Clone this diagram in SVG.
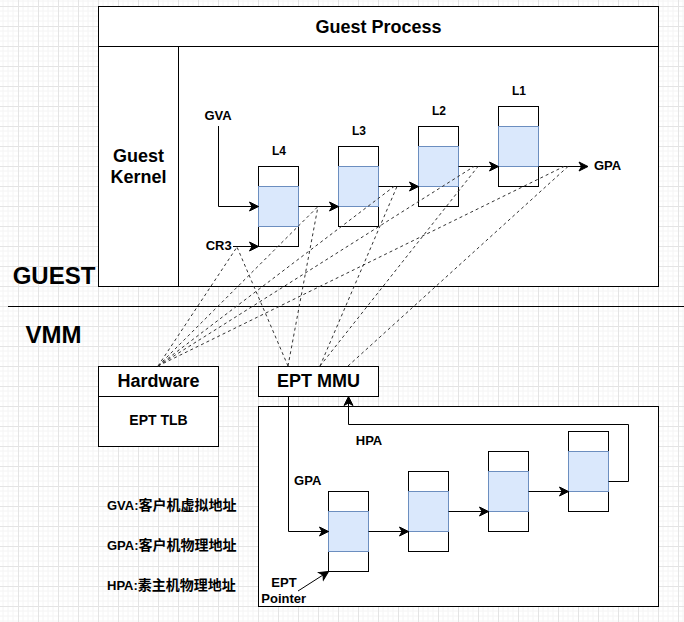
<svg xmlns="http://www.w3.org/2000/svg" width="684" height="622" viewBox="0 0 684 622">
<style>
.box{fill:#fff;stroke:#000;stroke-width:1}
.blue{fill:#dae8fc;stroke:#6c8ebf;stroke-width:1}
.ln{fill:none;stroke:#000;stroke-width:1}
.arr{fill:none;stroke:#000;stroke-width:1;marker-end:url(#ah)}
.dash{fill:none;stroke:#333;stroke-width:1;stroke-dasharray:3 3}
text{font-family:"Liberation Sans",Arial,sans-serif;font-weight:bold;fill:#000}
.t18{font-size:18px;text-anchor:middle}
.t24{font-size:24px;text-anchor:middle}
.t13{font-size:13px;text-anchor:middle}
.t12{font-size:12px;text-anchor:middle}
.t14{font-size:14px;text-anchor:middle}
.leg{font-size:13px}
.cjk{font-family:"Liberation Sans","Noto Sans CJK SC",sans-serif;font-size:14px}
</style>
<defs>
<pattern id="grid" x="-2" y="6" width="20" height="20" patternUnits="userSpaceOnUse">
<path d="M5 0V20M10 0V20M15 0V20M0 5H20M0 10H20M0 15H20" fill="none" stroke="#f4f4f4" stroke-width="1"/>
<path d="M0.5 0V20M0 0.5H20" fill="none" stroke="#e4e4e4" stroke-width="1"/>
</pattern>
<marker id="ah" markerUnits="userSpaceOnUse" markerWidth="12" markerHeight="12" viewBox="-10 -6 12 12" refX="0" refY="0" orient="auto">
<path d="M0 0L-9 -4.5L-6.5 0L-9 4.5Z" fill="#000" stroke="#000" stroke-width="1"/>
</marker>
</defs>
<rect width="684" height="622" fill="#fff"/>
<rect x="-2" y="0" width="690" height="622" fill="url(#grid)" transform="translate(0,0)"/>

<g id="guest-process">
<rect class="box" x="98.5" y="6.5" width="560" height="280"/>
<line class="ln" x1="98.5" y1="46.5" x2="658.5" y2="46.5"/>
<text class="t18" x="378.5" y="32.5">Guest Process</text>
</g>
<g id="guest-kernel">
<line class="ln" x1="178.5" y1="46.5" x2="178.5" y2="286.5"/>
<text class="t18" x="138.5" y="161.5">Guest</text>
<text class="t18" x="138.5" y="182.5">Kernel</text>
</g>
<g id="guest-label"><text class="t24" x="54" y="283.5">GUEST</text></g>
<g id="separator"><line class="ln" x1="8" y1="306.5" x2="684" y2="306.5"/></g>
<g id="vmm-label"><text class="t24" x="53.5" y="343">VMM</text></g>

<g id="L4">
<rect class="box" x="258.5" y="166.5" width="40" height="80"/>
<rect class="blue" x="258.5" y="186.5" width="40" height="40"/>
<text class="t12" x="279" y="155.3">L4</text>
</g>
<g id="L3">
<rect class="box" x="338.5" y="146.5" width="40" height="80"/>
<rect class="blue" x="338.5" y="166.5" width="40" height="40"/>
<text class="t12" x="359" y="135.3">L3</text>
</g>
<g id="L2">
<rect class="box" x="418.5" y="126.5" width="40" height="80"/>
<rect class="blue" x="418.5" y="146.5" width="40" height="40"/>
<text class="t12" x="439" y="115.3">L2</text>
</g>
<g id="L1">
<rect class="box" x="498.5" y="106.5" width="40" height="80"/>
<rect class="blue" x="498.5" y="126.5" width="40" height="40"/>
<text class="t12" x="519" y="95.3">L1</text>
</g>
<g id="gva"><text class="t13" x="218" y="120">GVA</text></g>
<g id="cr3"><text class="t13" x="218.7" y="249.7">CR3</text></g>
<g id="gpa-top"><text class="t13" x="607.5" y="170.3">GPA</text></g>

<g id="hardware">
<rect class="box" x="98.5" y="366.5" width="120" height="80"/>
<line class="ln" x1="98.5" y1="396.5" x2="218.5" y2="396.5"/>
<text class="t18" x="158.5" y="387.2">Hardware</text>
<text class="t14" x="158.5" y="425.3">EPT TLB</text>
</g>
<g id="ept-mmu">
<rect class="box" x="258.5" y="366.5" width="120" height="30"/>
<text class="t18" x="318.5" y="387.2">EPT MMU</text>
</g>
<g id="ept-area">
<rect class="box" x="258.5" y="406.5" width="400" height="200"/>
</g>
<g id="E1">
<rect class="box" x="328.5" y="491.5" width="40" height="80"/>
<rect class="blue" x="328.5" y="511.5" width="40" height="40"/>
</g>
<g id="E2">
<rect class="box" x="408.5" y="471.5" width="40" height="80"/>
<rect class="blue" x="408.5" y="491.5" width="40" height="40"/>
</g>
<g id="E3">
<rect class="box" x="488.5" y="451.5" width="40" height="80"/>
<rect class="blue" x="488.5" y="471.5" width="40" height="40"/>
</g>
<g id="E4">
<rect class="box" x="568.5" y="431.5" width="40" height="80"/>
<rect class="blue" x="568.5" y="451.5" width="40" height="40"/>
</g>
<g id="hpa"><text class="t13" x="369" y="444.7">HPA</text></g>
<g id="gpa-low"><text class="t13" x="307.7" y="484.7">GPA</text></g>
<g id="ept-pointer">
<text class="t13" x="284" y="587.3">EPT</text>
<text class="t13" x="283.7" y="603">Pointer</text>
</g>
<g id="legend">
<text class="leg" x="107" y="510">GVA:<tspan class="cjk">客户机虚拟地址</tspan></text>
<text class="leg" x="107" y="550">GPA:<tspan class="cjk">客户机物理地址</tspan></text>
<text class="leg" x="107" y="590">HPA:<tspan class="cjk">素主机物理地址</tspan></text>
</g>

<g id="connectors">
<path class="arr" d="M218.5 126V206.5H258.5"/>
<path class="arr" d="M233 246.5H258.5"/>
<path class="arr" d="M298.5 206.5H338.5"/>
<path class="arr" d="M378.5 186.5H418.5"/>
<path class="arr" d="M458.5 166.5H498.5"/>
<path class="arr" d="M538.5 166.5H588"/>
<path class="arr" d="M288.5 396.5V531.5H328.5"/>
<path class="arr" d="M368.5 531.5H408.5"/>
<path class="arr" d="M448.5 511.5H488.5"/>
<path class="arr" d="M528.5 491.5H568.5"/>
<path class="arr" d="M608.5 481.5H628.5V424.5H348.5V396.5"/>
<path class="arr" d="M298 591L328.5 571.5"/>
<path class="dash" d="M158 366L237 247"/>
<path class="dash" d="M158 366L318 206.5"/>
<path class="dash" d="M158 366L394 186.5"/>
<path class="dash" d="M158 366L474 166.5"/>
<path class="dash" d="M158 366L564 166.5"/>
<path class="dash" d="M288 366L237 247"/>
<path class="dash" d="M288 366L318 206.5"/>
<path class="dash" d="M320 366L397 186.5"/>
<path class="dash" d="M320 366L478 166.5"/>
<path class="dash" d="M348 366L568 166.5"/>
</g>
</svg>
